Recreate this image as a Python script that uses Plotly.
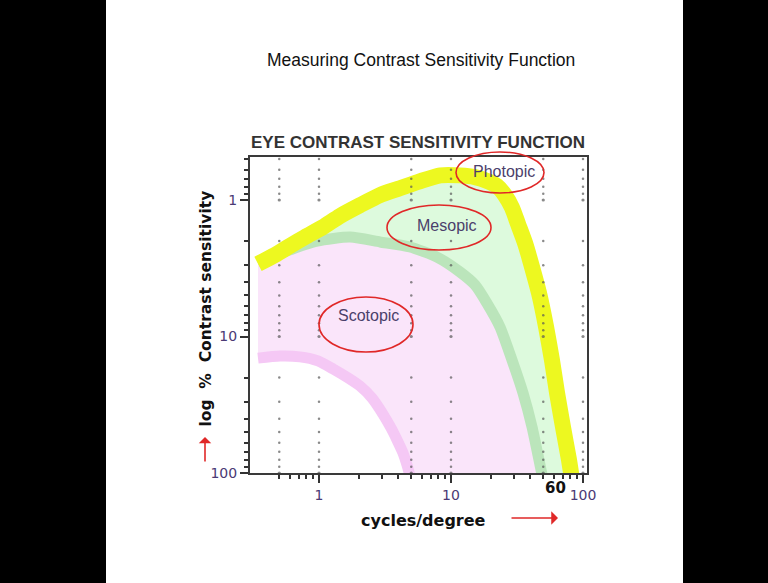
import numpy as np
import plotly.graph_objects as go

# ---------------- data ----------------
photopic_x = [0.345, 0.464, 0.603, 0.783, 1.07, 1.44, 2.05, 2.9, 4.1, 5.8, 8.3, 11.7,
              15.2, 19.1, 22.3, 25.6, 29.0, 32.2, 36.4, 39.7, 46.4, 52.5, 58.2, 63.6,
              70.5, 78.3, 82.6]
photopic_y = [2.94, 2.53, 2.17, 1.87, 1.58, 1.31, 1.09, 0.92, 0.82, 0.73, 0.66, 0.66,
              0.68, 0.73, 0.79, 0.92, 1.14, 1.5, 2.07, 2.75, 4.8, 8.5, 14.9, 25.9,
              46.0, 80.0, 112.0]

mesopic_x = [0.345, 0.573, 0.966, 1.72, 2.9, 4.89, 7.83, 11.7, 15.2, 18.7, 23.5, 29.0,
             35.1, 41.1, 46.4, 50.7]
mesopic_y = [2.89, 2.36, 2.0, 1.87, 2.03, 2.21, 2.62, 3.37, 4.19, 5.69, 8.51, 14.9,
             25.9, 46.0, 80.3, 122.0]

scotopic_x = [0.345, 0.507, 0.718, 0.983, 1.28, 1.66, 2.05, 2.52, 3.05, 3.51, 3.9,
              4.33, 4.64, 4.98]
scotopic_y = [14.4, 13.9, 14.1, 15.1, 17.3, 20.1, 23.1, 28.2, 37.0, 46.8, 57.3,
              71.3, 87.3, 112.0]

x_tick_vals = [1, 10, 100]
x_tick_text = ["1", "10", "100"]
x_minor_vals = [0.5, 0.6, 0.7, 0.8, 0.9, 2, 3, 4, 5, 6, 7, 8, 9,
                20, 30, 40, 50, 60, 70, 80, 90]
y_tick_vals = [1, 10, 100]
y_tick_text = ["1", "10", "100"]
y_minor_vals = [0.5, 0.6, 0.7, 0.8, 0.9, 2, 3, 4, 5, 6, 7, 8, 9,
                20, 30, 40, 50, 60, 70, 80, 90]
grid_x = [0.5, 1, 5, 10, 50, 100]
dot_levels = sorted(y_minor_vals + y_tick_vals)

FILL_FLOOR = 150

# ---------------- figure ----------------
W, H = 768, 583
L, R, T, B = 250, 181, 157, 110
PW, PH = W - L - R, H - T - B


def px(x):
    return (x - L) / PW


def py(y):
    return (H - B - y) / PH


fig = go.Figure()


def region(xs, ys, color):
    fig.add_trace(go.Scatter(
        x=xs + [xs[-1], xs[0]], y=ys + [FILL_FLOOR, FILL_FLOOR],
        mode="lines", fill="toself", fillcolor=color,
        line=dict(width=0, color=color), hoverinfo="skip", showlegend=False))


region(photopic_x, photopic_y, "#ddfadd")
region(mesopic_x, mesopic_y, "#fae5fa")
region(scotopic_x, scotopic_y, "#ffffff")


def band(xs, ys, color, width):
    fig.add_trace(go.Scatter(x=xs, y=ys, mode="lines",
                             line=dict(color=color, width=width, shape="spline", smoothing=0.6),
                             hoverinfo="skip", showlegend=False))


band(scotopic_x, scotopic_y, "#f5c8f5", 11)
band(mesopic_x, mesopic_y, "#bbe5bb", 11)
band(photopic_x, photopic_y, "#edf820", 16)

dots_x = [gx for gx in grid_x for gy in dot_levels]
dots_y = [gy for gx in grid_x for gy in dot_levels]
dots_s = [3.2 if gy in y_tick_vals else 2.5 for gx in grid_x for gy in dot_levels]
fig.add_trace(go.Scatter(x=dots_x, y=dots_y, mode="markers",
                         marker=dict(color="#595959", size=dots_s, line=dict(width=0)),
                         hoverinfo="skip", showlegend=False, cliponaxis=False))

tick_font = dict(family="DejaVu Sans", size=14, color="#4b3a75")
common = dict(
    type="log", tickmode="array",
    ticks="outside", ticklen=8, tickwidth=1.5, tickcolor="#333333",
    showgrid=False, zeroline=False, showline=True, mirror=True,
    linecolor="#3a3a3a", linewidth=2, tickfont=tick_font,
)
fig.update_xaxes(range=[-0.5227, 2.0303], tickvals=x_tick_vals, ticktext=x_tick_text,
                 minor=dict(tickmode="array", tickvals=x_minor_vals, ticks="outside", ticklen=4,
                            tickwidth=1.5, tickcolor="#333333", showgrid=False),
                 **common)
fig.update_yaxes(range=[2.0, -0.315], tickvals=y_tick_vals, ticktext=y_tick_text,
                 minor=dict(tickmode="array", tickvals=y_minor_vals, ticks="outside", ticklen=4,
                            tickwidth=1.5, tickcolor="#333333", showgrid=False),
                 **common)

shapes = [
    dict(type="rect", xref="paper", yref="paper", x0=px(0), x1=px(106), y0=py(0), y1=py(H),
         fillcolor="black", line=dict(width=0), layer="above"),
    dict(type="rect", xref="paper", yref="paper", x0=px(683), x1=px(W), y0=py(0), y1=py(H),
         fillcolor="black", line=dict(width=0), layer="above"),
]
red = "#e02828"
for (x0, x1, y0, y1) in [(456, 544, 152, 193), (387, 491, 205, 250), (319, 413, 297, 352)]:
    shapes.append(dict(type="circle", xref="paper", yref="paper",
                       x0=px(x0), x1=px(x1), y0=py(y1), y1=py(y0),
                       line=dict(color=red, width=1.6), layer="above"))

NB = "\u00a0"
annotations = [
    dict(text="Measuring Contrast Sensitivity Function", x=px(421), y=py(60),
         font=dict(family="Liberation Sans", size=17.5, color="#111111")),
    dict(text="<b>EYE CONTRAST SENSITIVITY FUNCTION</b>", x=px(418), y=py(142),
         font=dict(family="Liberation Sans", size=17, color="#333333")),
    dict(text="<b>cycles/degree</b>", x=px(423), y=py(520),
         font=dict(family="DejaVu Sans", size=16, color="#111111")),
    dict(text="<b>log" + NB * 2 + "%" + NB * 2 + "Contrast sensitivity</b>",
         x=px(205), y=py(308.5), textangle=-90,
         font=dict(family="DejaVu Sans", size=15.5, color="#111111")),
    dict(text="<b>60</b>", x=px(555), y=py(488),
         font=dict(family="DejaVu Sans", size=15, color="#111111")),
    dict(text="Photopic", x=px(504), y=py(171),
         font=dict(family="Liberation Sans", size=16, color="#4b3f6b")),
    dict(text="Mesopic", x=px(447), y=py(225),
         font=dict(family="Liberation Sans", size=16, color="#4b3f6b")),
    dict(text="Scotopic", x=px(368), y=py(315),
         font=dict(family="Liberation Sans", size=16, color="#4b3f6b")),
]
for a in annotations:
    a.update(xref="paper", yref="paper", showarrow=False, xanchor="center", yanchor="middle")

annotations += [
    dict(text="", xref="paper", yref="paper", x=px(205), y=py(437), ax=0, ay=26,
         showarrow=True, arrowhead=1, arrowsize=1.3, arrowwidth=1.6, arrowcolor=red),
    dict(text="", xref="paper", yref="paper", x=px(558), y=py(518), ax=-48, ay=0,
         showarrow=True, arrowhead=1, arrowsize=1.4, arrowwidth=1.6, arrowcolor=red),
]

fig.update_layout(
    width=W, height=H, margin=dict(l=L, r=R, t=T, b=B, pad=0),
    paper_bgcolor="white", plot_bgcolor="white",
    shapes=shapes, annotations=annotations, showlegend=False,
    font=dict(family="DejaVu Sans"),
)

fig.write_html("out.html")
